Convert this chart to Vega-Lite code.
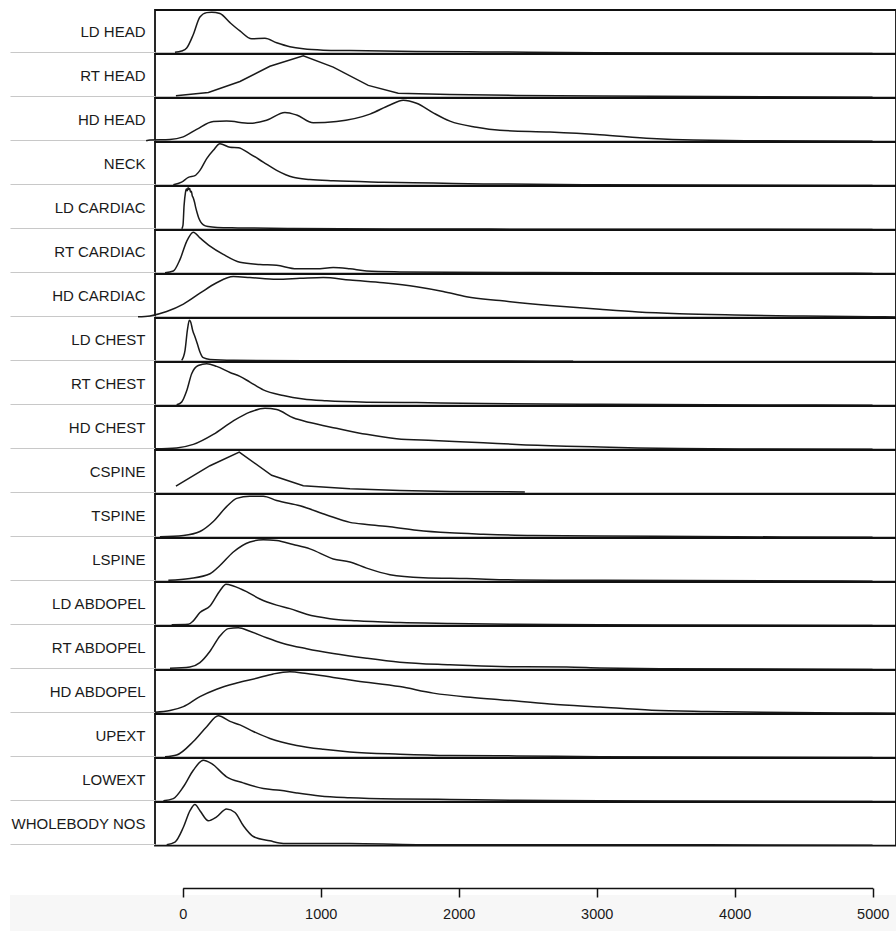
{
 "$schema": "https://vega.github.io/schema/vega-lite/v6.json",
 "padding": {"left": 8, "top": 8, "right": 0, "bottom": 0},
 "background": "white",
 "config": {"view": {"stroke": null}, "font": "Liberation Sans", "concat": {"spacing": 0}},
 "resolve": {"scale": {"x": "independent"}},
 "spacing": 0,
 "datasets": {
  "smooth": [
{"x":-56,"LD HEAD":0.03},{"x":-8,"LD HEAD":0.06},{"x":29,"LD HEAD":0.13},{"x":77,"LD HEAD":0.44},{"x":125,"LD HEAD":0.84},{"x":174,"LD HEAD":0.94},{"x":210,"LD HEAD":0.95},{"x":270,"LD HEAD":0.92},{"x":343,"LD HEAD":0.71},{"x":415,"LD HEAD":0.52},{"x":500,"LD HEAD":0.34},{"x":596,"LD HEAD":0.35},{"x":681,"LD HEAD":0.25},{"x":777,"LD HEAD":0.16},{"x":874,"LD HEAD":0.11},{"x":1019,"LD HEAD":0.08},{"x":1212,"LD HEAD":0.07},{"x":1695,"LD HEAD":0.05},{"x":2178,"LD HEAD":0.04},{"x":3000,"LD HEAD":0.02},{"x":5000,"LD HEAD":0.005},
{"x":-265,"HD HEAD":0.02},{"x":-237,"HD HEAD":0.04},{"x":-92,"HD HEAD":0.05},{"x":4,"HD HEAD":0.11},{"x":101,"HD HEAD":0.28},{"x":222,"HD HEAD":0.46},{"x":318,"HD HEAD":0.47},{"x":487,"HD HEAD":0.42},{"x":608,"HD HEAD":0.49},{"x":741,"HD HEAD":0.67},{"x":826,"HD HEAD":0.61},{"x":946,"HD HEAD":0.43},{"x":1115,"HD HEAD":0.46},{"x":1357,"HD HEAD":0.63},{"x":1502,"HD HEAD":0.84},{"x":1598,"HD HEAD":0.95},{"x":1695,"HD HEAD":0.88},{"x":1816,"HD HEAD":0.66},{"x":1937,"HD HEAD":0.47},{"x":2130,"HD HEAD":0.33},{"x":2299,"HD HEAD":0.26},{"x":2661,"HD HEAD":0.22},{"x":3024,"HD HEAD":0.16},{"x":3400,"HD HEAD":0.07},{"x":3700,"HD HEAD":0.035},{"x":4200,"HD HEAD":0.02},{"x":5000,"HD HEAD":0.01},
{"x":-68,"NECK":0.02},{"x":-8,"NECK":0.08},{"x":41,"NECK":0.19},{"x":89,"NECK":0.23},{"x":125,"NECK":0.35},{"x":174,"NECK":0.62},{"x":222,"NECK":0.81},{"x":270,"NECK":0.96},{"x":343,"NECK":0.88},{"x":403,"NECK":0.87},{"x":487,"NECK":0.73},{"x":584,"NECK":0.54},{"x":681,"NECK":0.35},{"x":801,"NECK":0.19},{"x":922,"NECK":0.14},{"x":1091,"NECK":0.11},{"x":1454,"NECK":0.08},{"x":1816,"NECK":0.06},{"x":2178,"NECK":0.04},{"x":3024,"NECK":0.02},{"x":5000,"NECK":0.005},
{"x":-7,"LD CARDIAC":0.02},{"x":2,"LD CARDIAC":0.1},{"x":10,"LD CARDIAC":0.55},{"x":20,"LD CARDIAC":0.85},{"x":27,"LD CARDIAC":0.93},{"x":33,"LD CARDIAC":0.89},{"x":39,"LD CARDIAC":0.96},{"x":45,"LD CARDIAC":0.92},{"x":51,"LD CARDIAC":0.94},{"x":57,"LD CARDIAC":0.86},{"x":63,"LD CARDIAC":0.88},{"x":69,"LD CARDIAC":0.78},{"x":75,"LD CARDIAC":0.74},{"x":85,"LD CARDIAC":0.64},{"x":95,"LD CARDIAC":0.5},{"x":105,"LD CARDIAC":0.38},{"x":115,"LD CARDIAC":0.28},{"x":130,"LD CARDIAC":0.18},{"x":150,"LD CARDIAC":0.11},{"x":185,"LD CARDIAC":0.07},{"x":250,"LD CARDIAC":0.05},{"x":400,"LD CARDIAC":0.04},{"x":800,"LD CARDIAC":0.025},{"x":1500,"LD CARDIAC":0.015},{"x":3000,"LD CARDIAC":0.01},{"x":5000,"LD CARDIAC":0.005},
{"x":-128,"RT CARDIAC":0.02},{"x":-68,"RT CARDIAC":0.06},{"x":-20,"RT CARDIAC":0.32},{"x":29,"RT CARDIAC":0.74},{"x":77,"RT CARDIAC":0.95},{"x":125,"RT CARDIAC":0.82},{"x":198,"RT CARDIAC":0.63},{"x":294,"RT CARDIAC":0.44},{"x":415,"RT CARDIAC":0.26},{"x":560,"RT CARDIAC":0.21},{"x":681,"RT CARDIAC":0.19},{"x":826,"RT CARDIAC":0.11},{"x":970,"RT CARDIAC":0.11},{"x":1091,"RT CARDIAC":0.14},{"x":1212,"RT CARDIAC":0.11},{"x":1333,"RT CARDIAC":0.06},{"x":1574,"RT CARDIAC":0.04},{"x":1937,"RT CARDIAC":0.03},{"x":3024,"RT CARDIAC":0.02},{"x":5000,"RT CARDIAC":0.005},
{"x":-324,"HD CARDIAC":0.02},{"x":-237,"HD CARDIAC":0.04},{"x":-116,"HD CARDIAC":0.14},{"x":5,"HD CARDIAC":0.31},{"x":125,"HD CARDIAC":0.56},{"x":246,"HD CARDIAC":0.80},{"x":367,"HD CARDIAC":0.94},{"x":487,"HD CARDIAC":0.92},{"x":681,"HD CARDIAC":0.88},{"x":850,"HD CARDIAC":0.90},{"x":1019,"HD CARDIAC":0.92},{"x":1212,"HD CARDIAC":0.86},{"x":1454,"HD CARDIAC":0.80},{"x":1695,"HD CARDIAC":0.71},{"x":1888,"HD CARDIAC":0.60},{"x":2057,"HD CARDIAC":0.48},{"x":2299,"HD CARDIAC":0.39},{"x":2661,"HD CARDIAC":0.28},{"x":3024,"HD CARDIAC":0.19},{"x":3300,"HD CARDIAC":0.13},{"x":3600,"HD CARDIAC":0.09},{"x":4000,"HD CARDIAC":0.06},{"x":4500,"HD CARDIAC":0.035},{"x":5000,"HD CARDIAC":0.02},{"x":5170,"HD CARDIAC":0.015},
{"x":-7,"LD CHEST":0.03},{"x":17,"LD CHEST":0.26},{"x":34,"LD CHEST":0.72},{"x":48,"LD CHEST":0.95},{"x":58,"LD CHEST":0.91},{"x":72,"LD CHEST":0.72},{"x":89,"LD CHEST":0.57},{"x":106,"LD CHEST":0.41},{"x":125,"LD CHEST":0.22},{"x":149,"LD CHEST":0.09},{"x":198,"LD CHEST":0.05},{"x":367,"LD CHEST":0.03},{"x":1000,"LD CHEST":0.02},{"x":2830,"LD CHEST":0.01},
{"x":-44,"RT CHEST":0.02},{"x":-8,"RT CHEST":0.08},{"x":29,"RT CHEST":0.34},{"x":65,"RT CHEST":0.73},{"x":113,"RT CHEST":0.92},{"x":174,"RT CHEST":0.96},{"x":246,"RT CHEST":0.90},{"x":343,"RT CHEST":0.76},{"x":415,"RT CHEST":0.67},{"x":487,"RT CHEST":0.54},{"x":584,"RT CHEST":0.36},{"x":729,"RT CHEST":0.23},{"x":874,"RT CHEST":0.15},{"x":1043,"RT CHEST":0.11},{"x":1333,"RT CHEST":0.08},{"x":1695,"RT CHEST":0.07},{"x":2178,"RT CHEST":0.05},{"x":3024,"RT CHEST":0.03},{"x":5000,"RT CHEST":0.01},
{"x":-200,"HD CHEST":0.02},{"x":-44,"HD CHEST":0.04},{"x":77,"HD CHEST":0.12},{"x":222,"HD CHEST":0.35},{"x":367,"HD CHEST":0.66},{"x":487,"HD CHEST":0.86},{"x":596,"HD CHEST":0.95},{"x":681,"HD CHEST":0.92},{"x":801,"HD CHEST":0.73},{"x":922,"HD CHEST":0.62},{"x":1115,"HD CHEST":0.49},{"x":1333,"HD CHEST":0.35},{"x":1550,"HD CHEST":0.25},{"x":1816,"HD CHEST":0.21},{"x":2178,"HD CHEST":0.16},{"x":2420,"HD CHEST":0.12},{"x":2782,"HD CHEST":0.08},{"x":3024,"HD CHEST":0.06},{"x":3300,"HD CHEST":0.04},{"x":3600,"HD CHEST":0.025},{"x":4200,"HD CHEST":0.015},{"x":5000,"HD CHEST":0.01},
{"x":-165,"TSPINE":0.02},{"x":5,"TSPINE":0.05},{"x":125,"TSPINE":0.14},{"x":222,"TSPINE":0.37},{"x":318,"TSPINE":0.71},{"x":391,"TSPINE":0.90},{"x":487,"TSPINE":0.95},{"x":584,"TSPINE":0.95},{"x":681,"TSPINE":0.85},{"x":850,"TSPINE":0.73},{"x":1043,"TSPINE":0.52},{"x":1212,"TSPINE":0.35},{"x":1333,"TSPINE":0.30},{"x":1502,"TSPINE":0.25},{"x":1695,"TSPINE":0.17},{"x":1937,"TSPINE":0.11},{"x":2178,"TSPINE":0.08},{"x":2540,"TSPINE":0.05},{"x":3024,"TSPINE":0.04},{"x":4000,"TSPINE":0.02},{"x":5000,"TSPINE":0.01},
{"x":-104,"LSPINE":0.03},{"x":53,"LSPINE":0.07},{"x":198,"LSPINE":0.18},{"x":270,"LSPINE":0.37},{"x":367,"LSPINE":0.68},{"x":487,"LSPINE":0.91},{"x":584,"LSPINE":0.96},{"x":681,"LSPINE":0.94},{"x":801,"LSPINE":0.85},{"x":922,"LSPINE":0.75},{"x":1091,"LSPINE":0.52},{"x":1212,"LSPINE":0.45},{"x":1333,"LSPINE":0.31},{"x":1502,"LSPINE":0.16},{"x":1743,"LSPINE":0.09},{"x":2057,"LSPINE":0.07},{"x":2420,"LSPINE":0.04},{"x":3024,"LSPINE":0.03},{"x":5000,"LSPINE":0.01},
{"x":-80,"LD ABDOPEL":0.02},{"x":41,"LD ABDOPEL":0.03},{"x":77,"LD ABDOPEL":0.11},{"x":125,"LD ABDOPEL":0.30},{"x":198,"LD ABDOPEL":0.45},{"x":270,"LD ABDOPEL":0.80},{"x":314,"LD ABDOPEL":0.95},{"x":367,"LD ABDOPEL":0.91},{"x":463,"LD ABDOPEL":0.78},{"x":560,"LD ABDOPEL":0.61},{"x":681,"LD ABDOPEL":0.47},{"x":777,"LD ABDOPEL":0.39},{"x":898,"LD ABDOPEL":0.26},{"x":1067,"LD ABDOPEL":0.16},{"x":1260,"LD ABDOPEL":0.11},{"x":1574,"LD ABDOPEL":0.07},{"x":1937,"LD ABDOPEL":0.05},{"x":2420,"LD ABDOPEL":0.03},{"x":3024,"LD ABDOPEL":0.02},{"x":5000,"LD ABDOPEL":0.005},
{"x":-92,"RT ABDOPEL":0.03},{"x":53,"RT ABDOPEL":0.06},{"x":125,"RT ABDOPEL":0.16},{"x":198,"RT ABDOPEL":0.42},{"x":270,"RT ABDOPEL":0.77},{"x":331,"RT ABDOPEL":0.94},{"x":403,"RT ABDOPEL":0.96},{"x":487,"RT ABDOPEL":0.88},{"x":608,"RT ABDOPEL":0.73},{"x":729,"RT ABDOPEL":0.60},{"x":898,"RT ABDOPEL":0.48},{"x":1091,"RT ABDOPEL":0.37},{"x":1333,"RT ABDOPEL":0.26},{"x":1574,"RT ABDOPEL":0.17},{"x":1937,"RT ABDOPEL":0.11},{"x":2299,"RT ABDOPEL":0.07},{"x":2782,"RT ABDOPEL":0.06},{"x":3024,"RT ABDOPEL":0.04},{"x":3500,"RT ABDOPEL":0.02},{"x":5000,"RT ABDOPEL":0.005},
{"x":-200,"HD ABDOPEL":0.03},{"x":-92,"HD ABDOPEL":0.07},{"x":5,"HD ABDOPEL":0.16},{"x":125,"HD ABDOPEL":0.39},{"x":246,"HD ABDOPEL":0.56},{"x":391,"HD ABDOPEL":0.70},{"x":536,"HD ABDOPEL":0.81},{"x":657,"HD ABDOPEL":0.91},{"x":777,"HD ABDOPEL":0.96},{"x":898,"HD ABDOPEL":0.92},{"x":1091,"HD ABDOPEL":0.83},{"x":1260,"HD ABDOPEL":0.75},{"x":1574,"HD ABDOPEL":0.62},{"x":1816,"HD ABDOPEL":0.47},{"x":2057,"HD ABDOPEL":0.38},{"x":2299,"HD ABDOPEL":0.32},{"x":2661,"HD ABDOPEL":0.22},{"x":3024,"HD ABDOPEL":0.15},{"x":3400,"HD ABDOPEL":0.08},{"x":3800,"HD ABDOPEL":0.05},{"x":4200,"HD ABDOPEL":0.03},{"x":4800,"HD ABDOPEL":0.015},{"x":5170,"HD ABDOPEL":0.01},
{"x":-128,"UPEXT":0.02},{"x":-44,"UPEXT":0.06},{"x":77,"UPEXT":0.37},{"x":174,"UPEXT":0.71},{"x":258,"UPEXT":0.96},{"x":343,"UPEXT":0.83},{"x":415,"UPEXT":0.75},{"x":512,"UPEXT":0.60},{"x":632,"UPEXT":0.44},{"x":826,"UPEXT":0.28},{"x":1019,"UPEXT":0.19},{"x":1212,"UPEXT":0.13},{"x":1574,"UPEXT":0.08},{"x":1937,"UPEXT":0.05},{"x":2420,"UPEXT":0.04},{"x":3024,"UPEXT":0.02},{"x":5000,"UPEXT":0.005},
{"x":-140,"LOWEXT":0.02},{"x":-68,"LOWEXT":0.07},{"x":5,"LOWEXT":0.34},{"x":77,"LOWEXT":0.72},{"x":149,"LOWEXT":0.95},{"x":210,"LOWEXT":0.87},{"x":318,"LOWEXT":0.57},{"x":439,"LOWEXT":0.43},{"x":584,"LOWEXT":0.30},{"x":705,"LOWEXT":0.26},{"x":826,"LOWEXT":0.20},{"x":995,"LOWEXT":0.13},{"x":1212,"LOWEXT":0.09},{"x":1574,"LOWEXT":0.06},{"x":1937,"LOWEXT":0.05},{"x":2420,"LOWEXT":0.03},{"x":3024,"LOWEXT":0.02},{"x":5000,"LOWEXT":0.005},
{"x":-116,"WHOLEBODY NOS":0.02},{"x":-56,"WHOLEBODY NOS":0.08},{"x":5,"WHOLEBODY NOS":0.42},{"x":53,"WHOLEBODY NOS":0.80},{"x":89,"WHOLEBODY NOS":0.94},{"x":125,"WHOLEBODY NOS":0.80},{"x":186,"WHOLEBODY NOS":0.57},{"x":246,"WHOLEBODY NOS":0.66},{"x":318,"WHOLEBODY NOS":0.84},{"x":379,"WHOLEBODY NOS":0.76},{"x":439,"WHOLEBODY NOS":0.46},{"x":512,"WHOLEBODY NOS":0.21},{"x":632,"WHOLEBODY NOS":0.11},{"x":729,"WHOLEBODY NOS":0.05},{"x":970,"WHOLEBODY NOS":0.05},{"x":1212,"WHOLEBODY NOS":0.05},{"x":1695,"WHOLEBODY NOS":0.02},{"x":3000,"WHOLEBODY NOS":0.02},{"x":5000,"WHOLEBODY NOS":0.01}
  ],
  "lin": [
{"x":-49,"RT HEAD":0.045},{"x":186,"RT HEAD":0.12},{"x":415,"RT HEAD":0.37},{"x":632,"RT HEAD":0.72},{"x":874,"RT HEAD":0.96},{"x":1091,"RT HEAD":0.70},{"x":1345,"RT HEAD":0.28},{"x":1562,"RT HEAD":0.10},{"x":1937,"RT HEAD":0.07},{"x":2420,"RT HEAD":0.05},{"x":3024,"RT HEAD":0.04},{"x":5000,"RT HEAD":0.01},
{"x":-49,"CSPINE":0.17},{"x":198,"CSPINE":0.64},{"x":410,"CSPINE":0.95},{"x":645,"CSPINE":0.42},{"x":874,"CSPINE":0.18},{"x":1212,"CSPINE":0.11},{"x":1574,"CSPINE":0.07},{"x":1937,"CSPINE":0.05},{"x":2480,"CSPINE":0.04}
  ],
  "ticks": [{"t": 0}, {"t": 5000}]
 },
 "vconcat": [
  {
   "repeat": {"row": ["LD HEAD","RT HEAD","HD HEAD","NECK","LD CARDIAC","RT CARDIAC","HD CARDIAC","LD CHEST","RT CHEST","HD CHEST","CSPINE","TSPINE","LSPINE","LD ABDOPEL","RT ABDOPEL","HD ABDOPEL","UPEXT","LOWEXT","WHOLEBODY NOS"]},
   "spacing": 0,
   "bounds": "flush",
   "spec": {
    "width": 741,
    "height": 43.63,
    "view": {"stroke": "#111111", "strokeWidth": 1.8},
    "layer": [
     {
      "data": {"name": "smooth"},
      "mark": {"type": "line", "interpolate": "monotone", "invalid": "filter", "color": "#1a1a1a", "strokeWidth": 1.5},
      "encoding": {
       "x": {"field": "x", "type": "quantitative", "scale": {"domain": [-200.7, 5170], "nice": false, "zero": false}, "axis": null},
       "y": {"field": {"repeat": "row"}, "type": "quantitative", "scale": {"domain": [0, 1], "nice": false, "zero": false},
        "axis": {"values": [0], "tickSize": 145, "tickOffset": -2, "tickColor": "#c8c8c8", "tickWidth": 1.2, "labels": false, "domain": false, "grid": false, "titleAngle": 0, "titleAlign": "right", "titleBaseline": "middle", "titleX": -10, "titleY": 21.5, "titleFont": "Liberation Sans", "titleFontSize": 15, "titleFontWeight": "normal", "titleColor": "#1a1a1a"}}
      }
     },
     {
      "data": {"name": "lin"},
      "mark": {"type": "line", "interpolate": "linear", "invalid": "filter", "color": "#1a1a1a", "strokeWidth": 1.5},
      "encoding": {
       "x": {"field": "x", "type": "quantitative", "scale": {"domain": [-200.7, 5170], "nice": false, "zero": false}, "axis": null},
       "y": {"field": {"repeat": "row"}, "type": "quantitative", "scale": {"domain": [0, 1], "nice": false, "zero": false},
        "axis": {"values": [0], "tickSize": 145, "tickOffset": -2, "tickColor": "#c8c8c8", "tickWidth": 1.2, "labels": false, "domain": false, "grid": false, "titleAngle": 0, "titleAlign": "right", "titleBaseline": "middle", "titleX": -10, "titleY": 21.5, "titleFont": "Liberation Sans", "titleFontSize": 15, "titleFontWeight": "normal", "titleColor": "#1a1a1a"}}
      }
     }
    ]
   }
  },
  {
   "data": {"name": "ticks"},
   "width": 741,
   "height": 81,
   "view": {"stroke": null},
   "layer": [
    {
     "mark": {"type": "rect", "color": "#f7f7f7"},
     "encoding": {
      "x": {"datum": -1251, "type": "quantitative", "scale": {"domain": [0, 5000], "range": [27.7, 717.7], "nice": false, "zero": false}, "axis": {"orient": "bottom", "offset": -43, "zindex": 1, "values": [0, 1000, 2000, 3000, 4000, 5000], "format": "d", "tickSize": 9, "tickWidth": 1.5, "tickColor": "#111111", "domainColor": "#111111", "domainWidth": 1.5, "labelFont": "Liberation Sans", "labelFontSize": 14.5, "labelColor": "#1a1a1a", "labelPadding": 10, "labelFlush": false, "grid": false, "title": null}},
      "x2": {"datum": 5170},
      "y": {"datum": 0, "type": "quantitative", "scale": {"domain": [0, 81], "nice": false, "zero": false}, "axis": null},
      "y2": {"datum": 36}
     }
    }
   ]
  }
 ]
}
